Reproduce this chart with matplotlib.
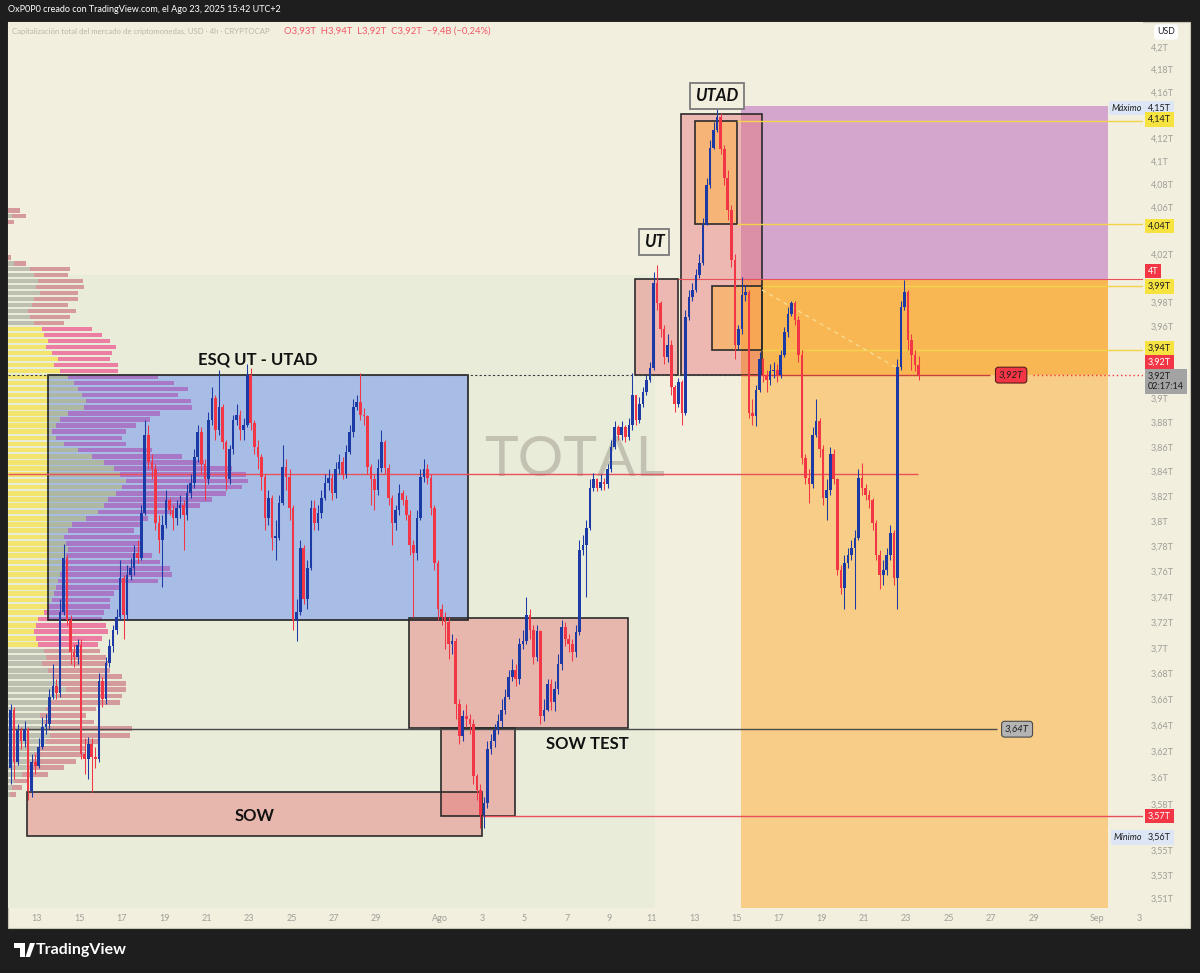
import matplotlib
matplotlib.use("Agg")
import matplotlib.pyplot as plt
import matplotlib.transforms as mtransforms
from matplotlib.patches import Rectangle, Polygon
import numpy as np

plt.rcParams['font.family'] = ['Lato', 'DejaVu Sans']

# ---------------- data ----------------
T0 = -1.25          # first 4h candle, in days after 13 Jul 00:00
OPEN0 = 3.607
CLOSE = [
3.652, 3.612, 3.636, 3.628, 3.637, 3.590, 3.612, 3.609, 3.623, 3.639,
3.641, 3.662, 3.670, 3.665, 3.728, 3.771, 3.722, 3.697, 3.693, 3.702,
3.618, 3.614, 3.626, 3.616, 3.614, 3.674, 3.660, 3.688, 3.701, 3.714,
3.724, 3.755, 3.726, 3.757, 3.763, 3.775, 3.771, 3.807, 3.870, 3.848,
3.842, 3.799, 3.785, 3.797, 3.817, 3.809, 3.803, 3.811, 3.813, 3.805,
3.823, 3.831, 3.852, 3.872, 3.846, 3.834, 3.882, 3.900, 3.874, 3.893,
3.864, 3.834, 3.858, 3.882, 3.886, 3.874, 3.878, 3.919, 3.880, 3.860,
3.852, 3.836, 3.803, 3.819, 3.787, 3.787, 3.815, 3.844, 3.836, 3.811,
3.722, 3.728, 3.779, 3.738, 3.763, 3.811, 3.799, 3.807, 3.819, 3.831,
3.835, 3.823, 3.842, 3.848, 3.838, 3.856, 3.872, 3.893, 3.897, 3.886,
3.885, 3.844, 3.834, 3.825, 3.843, 3.864, 3.843, 3.819, 3.799, 3.809,
3.823, 3.817, 3.805, 3.781, 3.775, 3.803, 3.836, 3.842, 3.835, 3.811,
3.767, 3.730, 3.724, 3.720, 3.703, 3.705, 3.656, 3.632, 3.647, 3.645,
3.641, 3.601, 3.591, 3.572, 3.581, 3.622, 3.628, 3.636, 3.643, 3.652,
3.662, 3.677, 3.683, 3.676, 3.703, 3.705, 3.726, 3.714, 3.693, 3.713,
3.647, 3.652, 3.672, 3.658, 3.668, 3.687, 3.716, 3.707, 3.703, 3.697,
3.712, 3.777, 3.781, 3.795, 3.827, 3.834, 3.827, 3.832, 3.830, 3.842,
3.860, 3.876, 3.870, 3.876, 3.868, 3.878, 3.903, 3.882, 3.895, 3.905,
3.915, 3.925, 3.996, 3.979, 3.957, 3.934, 3.944, 3.909, 3.895, 3.913,
3.888, 3.967, 3.984, 3.990, 4.003, 4.013, 4.045, 4.079, 4.111, 4.127,
4.138, 4.110, 4.085, 4.058, 4.015, 3.944, 3.957, 3.986, 3.988, 3.888,
3.885, 3.907, 3.932, 3.919, 3.915, 3.922, 3.923, 3.919, 3.936, 3.955,
3.970, 3.979, 3.965, 3.936, 3.851, 3.835, 3.830, 3.870, 3.881, 3.858,
3.819, 3.825, 3.854, 3.834, 3.761, 3.747, 3.767, 3.773, 3.779, 3.787,
3.835, 3.827, 3.821, 3.817, 3.799, 3.773, 3.757, 3.761, 3.773, 3.791,
3.755, 3.926, 3.976, 3.988, 3.948, 3.936, 3.927, 3.919,
]
HIGH = [
3.656, 3.654, 3.641, 3.639, 3.643, 3.639, 3.618, 3.618, 3.630, 3.646,
3.649, 3.668, 3.687, 3.676, 3.738, 3.782, 3.773, 3.726, 3.703, 3.707,
3.707, 3.630, 3.631, 3.630, 3.623, 3.680, 3.677, 3.693, 3.707, 3.718,
3.730, 3.769, 3.757, 3.765, 3.771, 3.781, 3.785, 3.813, 3.882, 3.878,
3.854, 3.846, 3.805, 3.805, 3.825, 3.819, 3.813, 3.817, 3.821, 3.817,
3.830, 3.838, 3.858, 3.878, 3.876, 3.850, 3.889, 3.909, 3.903, 3.923,
3.895, 3.866, 3.862, 3.886, 3.895, 3.890, 3.884, 3.928, 3.925, 3.882,
3.866, 3.854, 3.838, 3.825, 3.821, 3.801, 3.821, 3.862, 3.850, 3.842,
3.813, 3.738, 3.785, 3.781, 3.769, 3.817, 3.817, 3.813, 3.825, 3.838,
3.842, 3.838, 3.848, 3.854, 3.852, 3.862, 3.878, 3.899, 3.903, 3.921,
3.892, 3.886, 3.846, 3.838, 3.850, 3.874, 3.866, 3.846, 3.821, 3.813,
3.830, 3.825, 3.821, 3.809, 3.785, 3.809, 3.842, 3.850, 3.846, 3.838,
3.813, 3.769, 3.734, 3.728, 3.724, 3.711, 3.708, 3.660, 3.652, 3.656,
3.649, 3.645, 3.603, 3.595, 3.585, 3.628, 3.633, 3.641, 3.649, 3.660,
3.668, 3.683, 3.691, 3.687, 3.708, 3.714, 3.740, 3.730, 3.718, 3.718,
3.714, 3.660, 3.676, 3.676, 3.674, 3.695, 3.722, 3.720, 3.711, 3.707,
3.718, 3.785, 3.789, 3.801, 3.834, 3.839, 3.835, 3.838, 3.835, 3.846,
3.866, 3.881, 3.878, 3.881, 3.878, 3.884, 3.921, 3.903, 3.901, 3.909,
3.919, 3.930, 4.005, 4.011, 3.981, 3.961, 3.953, 3.948, 3.911, 3.917,
3.915, 3.973, 3.990, 3.996, 4.008, 4.020, 4.051, 4.085, 4.118, 4.134,
4.148, 4.142, 4.114, 4.092, 4.062, 4.020, 3.961, 4.001, 3.994, 3.990,
3.899, 3.911, 3.938, 3.933, 3.923, 3.928, 3.930, 3.928, 3.940, 3.959,
3.976, 3.981, 3.981, 3.968, 3.940, 3.854, 3.842, 3.876, 3.899, 3.884,
3.862, 3.834, 3.860, 3.858, 3.835, 3.765, 3.773, 3.779, 3.785, 3.793,
3.842, 3.847, 3.830, 3.825, 3.819, 3.801, 3.777, 3.769, 3.779, 3.797,
3.793, 3.932, 3.981, 3.998, 3.990, 3.953, 3.940, 3.935,
]
LOW = [
3.595, 3.599, 3.610, 3.622, 3.623, 3.583, 3.585, 3.603, 3.607, 3.622,
3.633, 3.637, 3.660, 3.660, 3.662, 3.726, 3.718, 3.687, 3.685, 3.687,
3.614, 3.603, 3.599, 3.589, 3.607, 3.612, 3.654, 3.656, 3.685, 3.697,
3.711, 3.722, 3.707, 3.722, 3.753, 3.757, 3.767, 3.769, 3.805, 3.842,
3.834, 3.793, 3.775, 3.748, 3.795, 3.805, 3.793, 3.797, 3.803, 3.777,
3.801, 3.819, 3.827, 3.848, 3.838, 3.817, 3.830, 3.878, 3.866, 3.870,
3.858, 3.825, 3.830, 3.854, 3.878, 3.866, 3.866, 3.876, 3.874, 3.854,
3.842, 3.825, 3.793, 3.797, 3.777, 3.769, 3.785, 3.813, 3.825, 3.801,
3.714, 3.705, 3.726, 3.734, 3.730, 3.761, 3.793, 3.793, 3.803, 3.817,
3.825, 3.817, 3.819, 3.838, 3.834, 3.835, 3.854, 3.868, 3.890, 3.882,
3.878, 3.838, 3.813, 3.809, 3.821, 3.840, 3.838, 3.813, 3.781, 3.793,
3.805, 3.813, 3.801, 3.773, 3.724, 3.769, 3.801, 3.832, 3.830, 3.805,
3.761, 3.722, 3.718, 3.699, 3.691, 3.695, 3.645, 3.626, 3.628, 3.639,
3.633, 3.595, 3.583, 3.562, 3.562, 3.577, 3.618, 3.623, 3.633, 3.639,
3.649, 3.660, 3.674, 3.670, 3.672, 3.699, 3.703, 3.707, 3.687, 3.690,
3.641, 3.643, 3.651, 3.652, 3.651, 3.664, 3.683, 3.701, 3.697, 3.690,
3.693, 3.710, 3.773, 3.740, 3.793, 3.824, 3.824, 3.825, 3.825, 3.827,
3.840, 3.858, 3.866, 3.866, 3.864, 3.866, 3.874, 3.878, 3.880, 3.893,
3.903, 3.913, 3.923, 3.973, 3.951, 3.928, 3.930, 3.903, 3.889, 3.893,
3.878, 3.886, 3.965, 3.981, 3.988, 4.000, 4.011, 4.046, 4.077, 4.110,
4.125, 4.106, 4.079, 4.049, 4.009, 3.932, 3.940, 3.953, 3.981, 3.884,
3.878, 3.877, 3.905, 3.913, 3.905, 3.911, 3.917, 3.913, 3.917, 3.934,
3.951, 3.968, 3.961, 3.930, 3.846, 3.830, 3.815, 3.827, 3.868, 3.852,
3.813, 3.801, 3.821, 3.830, 3.757, 3.742, 3.730, 3.763, 3.769, 3.730,
3.785, 3.821, 3.817, 3.811, 3.793, 3.769, 3.746, 3.749, 3.757, 3.769,
3.749, 3.730, 3.923, 3.973, 3.940, 3.923, 3.922, 3.915,
]

# visible-range volume profile (rows from top price down)
VP_TOP = 4.0575
VP_STEP = 0.005
VP_UP = [0, 4, 0, 0, 0, 0, 0, 0, 0, 6,
         22, 26, 30, 28, 32, 26, 24, 20, 22, 26,
         34, 36, 40, 38, 44, 50, 46, 52, 60, 66,
         70, 74, 78, 76, 60, 52, 48, 44, 48, 56,
         70, 84, 96, 106, 112, 118, 114, 108, 100, 96,
         90, 78, 64, 60, 56, 58, 60, 58, 56, 54,
         52, 50, 48, 46, 44, 40, 36, 30, 28, 26,
         28, 30, 36, 38, 34, 40, 44, 52, 58, 50,
         42, 38, 32, 36, 40, 42, 38, 30, 26, 24,
         20, 14, 6, 4, 2]
VP_DOWN = [12, 14, 6, 0, 0, 0, 0, 0, 3, 12,
           40, 34, 45, 48, 38, 44, 36, 48, 40, 30,
           50, 58, 62, 70, 60, 52, 64, 58, 90, 100,
           110, 96, 105, 108, 92, 90, 80, 74, 66, 62,
           74, 90, 100, 118, 126, 122, 120, 110, 104, 96,
           74, 62, 70, 66, 78, 74, 72, 86, 96, 108,
           112, 100, 64, 60, 58, 62, 60, 64, 70, 74,
           66, 60, 56, 60, 66, 62, 70, 66, 60, 64,
           70, 50, 46, 50, 84, 80, 54, 48, 52, 44,
           36, 26, 14, 10, 6]
VA_ROWS = (20, 71)

XT_POS = [0, 2, 4, 6, 8, 10, 12, 14, 16, 19, 21, 23, 25, 27, 29, 31, 33, 35, 37, 39, 41, 43, 45, 47, 50, 52]
XT_LAB = ['13', '15', '17', '19', '21', '23', '25', '27', '29', 'Ago', '3', '5', '7', '9', '11', '13',
          '15', '17', '19', '21', '23', '25', '27', '29', 'Sep', '3']
YT_VAL = [4.20, 4.18, 4.16, 4.12, 4.10, 4.08, 4.06, 4.02, 3.98, 3.96, 3.90, 3.88, 3.86, 3.84, 3.82,
          3.80, 3.78, 3.76, 3.74, 3.72, 3.70, 3.68, 3.66, 3.64, 3.62, 3.60, 3.58, 3.5455, 3.527, 3.51]
YT_LAB = ['4,2T', '4,18T', '4,16T', '4,12T', '4,1T', '4,08T', '4,06T', '4,02T', '3,98T', '3,96T',
          '3,9T', '3,88T', '3,86T', '3,84T', '3,82T', '3,8T', '3,78T', '3,76T', '3,74T', '3,72T',
          '3,7T', '3,68T', '3,66T', '3,64T', '3,62T', '3,6T', '3,58T', '3,55T', '3,53T', '3,51T']

# ---------------- style ----------------
BG = '#f3efdf'
DARK = '#1e1e1e'
BLUE = '#1c3aa6'
RED = '#f23645'
W, H = 1200, 973
XMIN, XMAX = -1.368, 52.17
YMIN, YMAX = 3.5024, 4.222


def frect(x0, y0, x1, y1):
    return [x0 / W, 1 - y1 / H, (x1 - x0) / W, (y1 - y0) / H]


fig = plt.figure(figsize=(12, 9.73), dpi=100)
fig.patch.set_facecolor(DARK)
fig.add_artist(Rectangle((8 / W, 1 - 928 / H), (1190 - 8) / W, (928 - 22) / H,
                         transform=fig.transFigure, facecolor=BG, edgecolor='#c9c5b4',
                         lw=0.8, zorder=-10))

ax = fig.add_axes(frect(8, 22, 1143, 908))
ax.set_facecolor(BG)
ax.set_yscale('log')
for s in ax.spines.values():
    s.set_visible(False)

vp = fig.add_axes(frect(8, 22, 1143, 908))
vp.set_xlim(0, 1135)
vp.set_axis_off()
trans_vp = mtransforms.blended_transform_factory(vp.transData, ax.transData)


def box(x0, x1, y0, y1, fc, alpha=1.0, ec='none', lw=1.2, z=1.0, ls='-'):
    r = Rectangle((x0, y0), x1 - x0, y1 - y0, facecolor=fc, alpha=alpha,
                  edgecolor='none', lw=0, zorder=z)
    ax.add_patch(r)
    if ec != 'none':
        ax.add_patch(Rectangle((x0, y0), x1 - x0, y1 - y0, facecolor='none',
                               edgecolor=ec, lw=lw, zorder=z + 0.5, ls=ls))
    return r


# background regions
box(XMIN, 29.15, YMIN, 4.003, '#e9ecd9', z=0.5)
box(33.21, 50.52, 3.999, 4.148, '#d4a6cd', z=1.0)
box(33.21, 50.52, 3.919, 3.999, '#f9b754', z=1.0)
box(33.21, 50.52, YMIN, 3.919, '#f7cd87', z=1.0)

# volume profile
k = np.arange(len(VP_UP))
vp_price = VP_TOP - VP_STEP * k
in_va = (k >= VA_ROWS[0]) & (k <= VA_ROWS[1])
up_col = np.where(in_va, '#f2e46c', '#bdbfb1')
dn_col = np.where(in_va, '#ec7ea4', '#d49a9c')
ax.barh(vp_price, VP_UP, height=VP_STEP * 0.75, left=0, color=up_col,
        transform=trans_vp, zorder=1.5, linewidth=0)
ax.barh(vp_price, VP_DOWN, height=VP_STEP * 0.75, left=VP_UP, color=dn_col,
        transform=trans_vp, zorder=1.5, linewidth=0)

# ESQ box and the profile seen through it
esq = box(0.52, 20.33, 3.722, 3.919, '#7498f0', alpha=0.55, ec='#222222', z=2.0)
b1 = ax.barh(vp_price, VP_UP, height=VP_STEP * 0.75, left=0, color='#aeb7a2',
             transform=trans_vp, zorder=2.1, linewidth=0)
b2 = ax.barh(vp_price, VP_DOWN, height=VP_STEP * 0.75, left=VP_UP, color='#a877c6',
             transform=trans_vp, zorder=2.1, linewidth=0)
for bars in (b1, b2):
    for p in bars:
        p.set_clip_path(esq)

# drawn boxes
PINK = '#e5777a'
box(-0.47, 20.99, 3.556, 3.589, PINK, alpha=0.45, ec='#2b2b2b', z=2.1)
box(17.55, 27.88, 3.638, 3.723, PINK, alpha=0.45, ec='#2b2b2b', z=2.1)
box(19.06, 22.55, 3.571, 3.638, PINK, alpha=0.45, ec='#2b2b2b', z=2.2)
box(28.21, 30.24, 3.919, 3.999, PINK, alpha=0.45, ec='#2b2b2b', z=2.1)
box(30.38, 34.20, 3.919, 4.141, PINK, alpha=0.45, ec='#2b2b2b', z=2.1)
box(31.04, 33.02, 4.046, 4.135, '#ffb347', alpha=0.55, ec='#2b2b2b', z=2.3)
box(31.84, 34.20, 3.940, 3.993, '#ffb347', alpha=0.55, ec='#2b2b2b', z=2.3)

# horizontal levels
ax.hlines(3.838, XMIN, 41.56, color='#e8505b', lw=1.0, zorder=3)
ax.hlines(3.637, XMIN, 45.28, color='#4a4a4a', lw=1.0, zorder=3)
ax.hlines(3.571, 20.99, XMAX, color='#e8505b', lw=1.0, zorder=3)
ax.hlines(3.919, XMIN, 33.21, color='#3c3c3c', lw=0.8, ls=(0, (2, 2)), zorder=3)
ax.hlines(3.919, 33.21, 44.95, color='#c8403c', lw=1.0, zorder=3)
ax.hlines(3.919, 47.0, XMAX, color=RED, lw=1.0, ls=(0, (1, 2)), zorder=3)
for lvl, x0 in [(4.135, 33.02), (4.046, 33.02), (3.993, 34.20), (3.940, 34.20)]:
    ax.hlines(lvl, x0, XMAX, color='#f3d34a', lw=1.0, zorder=3)
ax.hlines(3.999, 30.24, XMAX, color='#e8505b', lw=0.8, zorder=3)
ax.plot([34.2, 40.56], [3.990, 3.925], ls=(0, (3, 3)), color='#f7dc8e', lw=1.0, zorder=3)

# watermark
ax.text(25.38, 3.849, 'TOTAL', ha='center', va='center', fontsize=41, color='#b9b7a9',
        alpha=0.8, zorder=1.8)

# candles
n = len(CLOSE)
t = T0 + np.arange(n) / 6.0
c = np.array(CLOSE)
o = np.concatenate([[OPEN0], c[:-1]])
hi = np.maximum(np.array(HIGH), np.maximum(o, c))
lo = np.minimum(np.array(LOW), np.minimum(o, c))
col = np.where(c >= o, BLUE, RED)
ax.vlines(t, lo, hi, colors=col, lw=0.75, zorder=6)
ax.bar(t, np.maximum(np.abs(c - o), 0.0012), bottom=np.minimum(o, c), width=0.125,
       color=col, linewidth=0, zorder=7)

# annotations on chart
ax.text(10.42, 3.932, 'ESQ UT - UTAD', ha='center', va='center', fontsize=12,
        fontweight='bold', color='#111111', zorder=8)
ax.text(10.28, 3.571, 'SOW', ha='center', va='center', fontsize=12,
        fontweight='bold', color='#111111', zorder=8)
ax.text(25.94, 3.626, 'SOW TEST', ha='center', va='center', fontsize=12,
        fontweight='bold', color='#111111', zorder=8)
for xx, yy, s in [(29.1, 4.031, 'UT'), (32.08, 4.157, 'UTAD')]:
    ax.text(xx, yy, s, ha='center', va='center', fontsize=12, fontweight='bold',
            fontstyle='italic', color='#111111', zorder=8,
            bbox=dict(boxstyle='square,pad=0.3', fc=BG, ec='#7a7a7a', lw=1.3))
ax.text(45.95, 3.919, '3,92T', ha='center', va='center', fontsize=7, fontstyle='italic',
        color='#1e1e1e', zorder=8,
        bbox=dict(boxstyle='round,pad=0.35,rounding_size=0.3', fc=RED, ec='#5a1a1a', lw=0.8))
ax.text(46.23, 3.637, '3,64T', ha='center', va='center', fontsize=7, fontstyle='italic',
        color='#1e1e1e', zorder=8,
        bbox=dict(boxstyle='round,pad=0.35,rounding_size=0.3', fc='#b4b4b4', ec='#4a4a4a', lw=0.8))

# axes ticks
ax.set_xlim(XMIN, XMAX)
ax.set_ylim(YMIN, YMAX)
ax.set_autoscale_on(False)
ax.set_xticks(XT_POS)
ax.set_xticklabels(XT_LAB)
ax.yaxis.tick_right()
ax.set_yticks(YT_VAL)
ax.set_yticklabels(YT_LAB)
ax.set_yticks([], minor=True)
ax.tick_params(axis='x', length=0, pad=4, labelsize=6.5, labelcolor='#a09f98')
ax.tick_params(axis='y', length=0, pad=5.8, labelsize=6.5, labelcolor='#a09f98')

# price-scale labels
tr_lab = mtransforms.blended_transform_factory(fig.transFigure, ax.transData)


def plabel(price, s, fc, tc, x=1148):
    ax.text(x / W, price, s, transform=tr_lab, ha='left', va='center', fontsize=6.5,
            color=tc, clip_on=False, zorder=9,
            bbox=dict(boxstyle='square,pad=0.3', fc=fc, ec='none'))


plabel(4.146, '4,15T', '#dce6f4', '#1e1e1e')
plabel(4.136, '4,14T', '#f6e33f', '#1e1e1e')
plabel(4.044, '4,04T', '#f6e33f', '#1e1e1e')
plabel(4.006, '4T', RED, 'white')
plabel(3.993, '3,99T', '#f6e33f', '#1e1e1e')
plabel(3.941, '3,94T', '#f6e33f', '#1e1e1e')
plabel(3.930, '3,92T', RED, 'white')
plabel(3.914, '3,92T\n02:17:14', '#a3a3a3', '#1e1e1e')
plabel(3.571, '3,57T', RED, 'white')
plabel(3.555, '3,56T', '#dce6f4', '#1e1e1e')
for price, s in [(4.146, 'Máximo'), (3.555, 'Mínimo')]:
    ax.text(1142 / W, price, s, transform=tr_lab, ha='right', va='center', fontsize=6.5,
            fontstyle='italic', color='#1e1e1e', clip_on=False, zorder=9,
            bbox=dict(boxstyle='square,pad=0.3', fc='#dce6f4', ec='none'))

# header / legend / footer
fig.text(8 / W, 1 - 9 / H, 'OxP0P0 creado con TradingView.com, el Ago 23, 2025 15:42 UTC+2',
         color='white', fontsize=6.5, va='center', ha='left')
fig.text(12 / W, 1 - 31 / H,
         'Capitalización total del mercado de criptomonedas, USD · 4h · CRYPTOCAP',
         color='#b9b6aa', fontsize=5.6, va='center', ha='left')
fig.text(284 / W, 1 - 31 / H, 'O3,93T  H3,94T  L3,92T  C3,92T  −9,4B (−0,24%)',
         color='#ef5a68', fontsize=6.8, va='center', ha='left')
fig.text(1166 / W, 1 - 32 / H, 'USD', color='#1e1e1e', fontsize=6.3, va='center', ha='center',
         bbox=dict(boxstyle='round,pad=0.35,rounding_size=0.4', fc='white', ec='none'), zorder=10)
fig.text(36 / W, 1 - 950 / H, 'TradingView', color='white', fontsize=11.5,
         fontweight='bold', va='center', ha='left')
# logo
fig.add_artist(Polygon([(14 / W, 1 - 943 / H), (25 / W, 1 - 943 / H), (25 / W, 1 - 957 / H),
                        (20 / W, 1 - 957 / H), (20 / W, 1 - 948 / H), (14 / W, 1 - 948 / H)],
                       closed=True, transform=fig.transFigure, fc='white', ec='none'))
fig.add_artist(Polygon([(30 / W, 1 - 943 / H), (35 / W, 1 - 943 / H), (30 / W, 1 - 957 / H),
                        (25.5 / W, 1 - 957 / H)],
                       closed=True, transform=fig.transFigure, fc='white', ec='none'))

fig.savefig('out.png', dpi=100, facecolor=fig.get_facecolor())
